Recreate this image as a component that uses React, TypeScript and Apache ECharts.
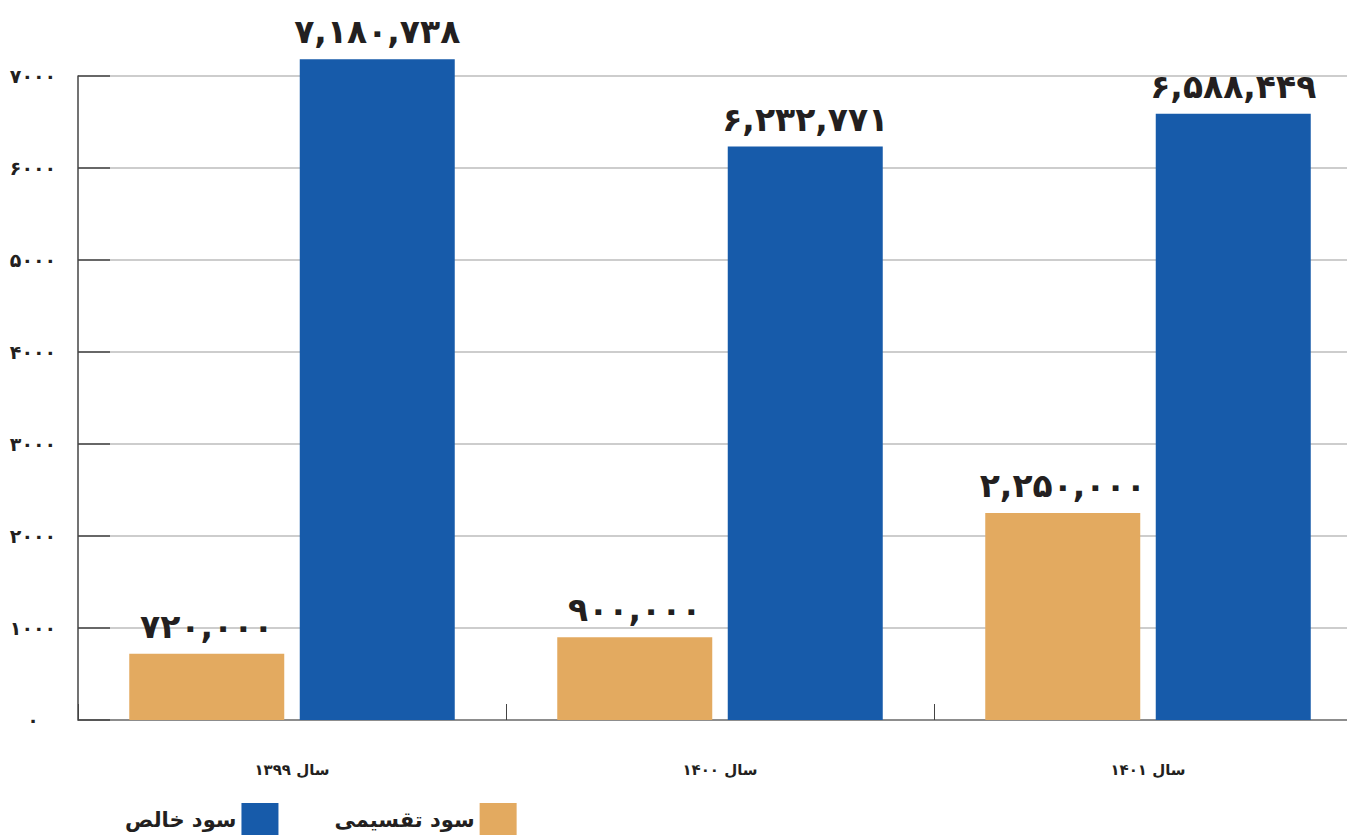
import React, { useEffect, useRef } from "react";
import * as echarts from "echarts";

const categories = ["سال ۱۳۹۹", "سال ۱۴۰۰", "سال ۱۴۰۱"];
const dividendValues = [720000, 900000, 2250000];
const netProfitValues = [7180738, 6232771, 6588449];
const seriesNames = ["سود تقسیمی", "سود خالص"];

const FA = "۰۱۲۳۴۵۶۷۸۹";
const toFa = (s: string) => s.replace(/[0-9]/g, (d) => FA[Number(d)]);
const withCommas = (n: number) => String(n).replace(/\B(?=(\d{3})+(?!\d))/g, ",");

const FONT = "DejaVu Sans";

export default function App() {
  const ref = useRef<HTMLDivElement>(null);
  useEffect(() => {
    if (!ref.current) return;
    const chart = echarts.init(ref.current, undefined, { renderer: "svg" });
    const barLabel = {
      show: true,
      position: "top" as const,
      distance: 11,
      color: "#231f20",
      fontFamily: FONT,
      fontWeight: "bold" as const,
      fontSize: 33,
      formatter: (p: any) => toFa(withCommas(p.value)),
    };
    chart.setOption({
      animation: false,
      backgroundColor: "#ffffff",
      grid: { left: 78, top: 76, width: 1284, height: 644 },
      legend: {
        data: [seriesNames[1], seriesNames[0]],
        left: 120,
        top: 798,
        align: "right",
        icon: "rect",
        itemWidth: 37,
        itemHeight: 33,
        itemGap: 56,
        textStyle: { fontFamily: FONT, fontWeight: "bold", fontSize: 21, color: "#231f20", padding: [0, 0, 0, 0] },
      },
      xAxis: {
        type: "category",
        data: categories,
        axisLine: { lineStyle: { color: "#777777", width: 1.5 } },
        axisTick: { show: true, inside: true, length: 16, lineStyle: { color: "#444444" } },
        axisLabel: {
          margin: 42,
          fontFamily: FONT,
          fontWeight: "bold",
          fontSize: 15,
          color: "#231f20",
        },
      },
      yAxis: {
        type: "value",
        min: 0,
        max: 7000000,
        interval: 1000000,
        axisLine: { show: true, lineStyle: { color: "#444444", width: 1.5 } },
        axisTick: { show: true, inside: true, length: 32, lineStyle: { color: "#444444", width: 1.5 } },
        splitLine: { show: true, lineStyle: { color: "#bdbdbd", width: 1.5 } },
        axisLabel: {
          margin: 45,
          align: "center",
          fontFamily: FONT,
          fontWeight: "bold",
          fontSize: 19,
          color: "#231f20",
          formatter: (v: number) => toFa(String(v / 1000)),
        },
      },
      series: [
        {
          name: seriesNames[0],
          type: "bar",
          data: dividendValues,
          barWidth: 155,
          barGap: "10%",
          clip: false,
          itemStyle: { color: "#e3aa60" },
          label: barLabel,
        },
        {
          name: seriesNames[1],
          type: "bar",
          data: netProfitValues,
          barWidth: 155,
          barGap: "10%",
          clip: false,
          itemStyle: { color: "#175baa" },
          label: barLabel,
        },
      ],
    });
    return () => chart.dispose();
  }, []);
  return (
    <div style={{ position: "fixed", left: 0, top: 0, width: "1347px", height: "835px", overflow: "hidden" }}>
      <div ref={ref} style={{ position: "absolute", left: 0, top: 0, width: "1365px", height: "835px" }} />
    </div>
  );
}
